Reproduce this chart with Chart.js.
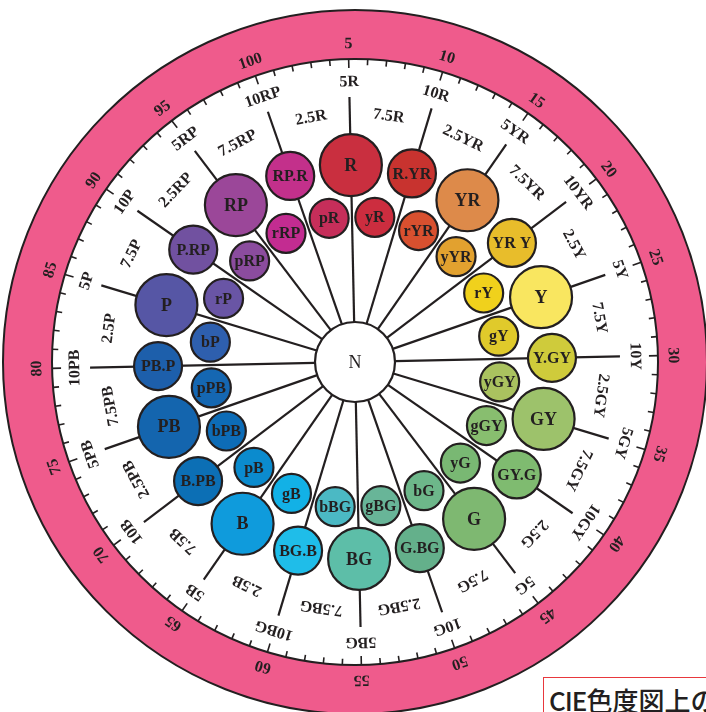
<!DOCTYPE html>
<html>
<head>
<meta charset="utf-8">
<script src="https://cdn.jsdelivr.net/npm/chart.js@4.4.1/dist/chart.umd.min.js"></script>
<style>
  html, body { margin: 0; padding: 0; background: #fff; overflow: hidden; }
  #wrap { position: relative; width: 706px; height: 712px; }
  #note {
    position: absolute; left: 543px; top: 677px; width: 220px; height: 60px;
    border: 1px solid #e8383d; background: #fff; box-sizing: border-box;
    font-family: "Noto Sans CJK JP", sans-serif; font-size: 26px; font-weight: 500;
    color: #231f20; padding: 7px 0 0 5px; line-height: 30px; white-space: nowrap;
  }
  #note span { letter-spacing: -1px; }
</style>
</head>
<body>
<div id="wrap">
  <canvas id="wheel" width="706" height="712"></canvas>
  <div id="note"><span>CIE</span>色度図上の</div>
</div>
<script>
// outer scale numbers, one every 5 of 100 steps
const ringNumbers = [5, 10, 15, 20, 25, 30, 35, 40, 45, 50, 55, 60, 65, 70, 75, 80, 85, 90, 95, 100];

// Munsell hue names, clockwise from 5R at the top
const hueLabels = [
  "5R", "7.5R", "10R", "2.5YR", "5YR", "7.5YR", "10YR", "2.5Y", "5Y", "7.5Y",
  "10Y", "2.5GY", "5GY", "7.5GY", "10GY", "2.5G", "5G", "7.5G", "10G", "2.5BG",
  "5BG", "7.5BG", "10BG", "2.5B", "5B", "7.5B", "10B", "2.5PB", "5PB", "7.5PB",
  "10PB", "2.5P", "5P", "7.5P", "10P", "2.5RP", "5RP", "7.5RP", "10RP", "2.5R"
];

// outer ring of tones (on the spokes), clockwise from R
const outerTones = [
  "R", "R.YR", "YR", "YR Y", "Y", "Y.GY", "GY", "GY.G", "G", "G.BG",
  "BG", "BG.B", "B", "B.PB", "PB", "PB.P", "P", "P.RP", "RP", "RP.R"
];
const outerColors = [
  "#c92f3f", "#c8332f", "#dd8a4a", "#e8bd2b", "#f9e660", "#cfcb3b", "#9dc26b", "#7fbb70", "#7eb871", "#64b08b",
  "#5dbea8", "#1fbde9", "#0f9bdc", "#0c6fb5", "#1465ae", "#1d5fab", "#5656a5", "#7151a0", "#9b4799", "#c3308b"
];

// inner ring of tones (between the spokes), clockwise from yR
const innerTones = [
  "yR", "rYR", "yYR", "rY", "gY", "yGY", "gGY", "yG", "bG", "gBG",
  "bBG", "gB", "pB", "bPB", "pPB", "bP", "rP", "pRP", "rRP", "pR"
];
const innerColors = [
  "#cc2d3f", "#d8502f", "#e2a12f", "#f0d11c", "#e0ca2b", "#aac25f", "#88be6f", "#79b873", "#6db78a", "#68b598",
  "#4bb9c4", "#12b1e6", "#0b8bce", "#0d6cb7", "#1567b2", "#2e5fae", "#6955a5", "#8b4c9e", "#c32c91", "#c62e5a"
];

const ROT = -1.2;            // the printed wheel is turned slightly
const INK = "#231f20";
const PINK = "#ef5b8c";

const toXY = (deg, r) => {
  const a = (deg + ROT) * Math.PI / 180;
  return { x: r * Math.sin(a), y: r * Math.cos(a) };
};

const spokeSets = outerTones.map((t, i) => ({
  type: "scatter",
  showLine: true,
  data: [toXY(i * 18, 40), toXY(i * 18, 265)],
  borderColor: INK,
  borderWidth: 2.2,
  pointRadius: 0,
  order: 3,
}));

const outerSet = {
  label: "outer",
  data: outerTones.map((t, i) => ({ ...toXY(i * 18, 197), r: i % 2 === 0 ? 31 : 24 })),
  backgroundColor: outerColors,
  borderColor: INK,
  borderWidth: 2.2,
  order: 1,
};

const innerSet = {
  label: "inner",
  data: innerTones.map((t, i) => ({ ...toXY(i * 18 + 9, 146), r: 19.5 })),
  backgroundColor: innerColors,
  borderColor: INK,
  borderWidth: 2.2,
  order: 1,
};

const centerSet = {
  label: "N",
  data: [{ x: 0, y: 0, r: 40 }],
  backgroundColor: "#fff",
  borderColor: INK,
  borderWidth: 2.2,
  order: 1,
};

const wheelPlugin = {
  id: "wheel",
  beforeDatasetsDraw(chart) {
    const { ctx, scales: { x, y } } = chart;
    const cx = x.getPixelForValue(0), cy = y.getPixelForValue(0);
    const px = (v) => x.getPixelForValue(v) - cx;

    // pink band
    ctx.save();
    ctx.beginPath();
    ctx.arc(cx, cy, px(352), 0, Math.PI * 2);
    ctx.arc(cx, cy, px(303), 0, Math.PI * 2, true);
    ctx.fillStyle = PINK;
    ctx.fill();
    ctx.lineWidth = 2;
    ctx.strokeStyle = INK;
    ctx.beginPath(); ctx.arc(cx, cy, px(352), 0, Math.PI * 2); ctx.stroke();
    ctx.beginPath(); ctx.arc(cx, cy, px(303), 0, Math.PI * 2); ctx.stroke();

    // ticks, one per step of 100
    ctx.lineWidth = 1.6;
    for (let n = 1; n <= 100; n++) {
      const len = n % 5 === 0 ? 9 : 6;
      const a = toXY((n - 5) * 3.6, 303), b = toXY((n - 5) * 3.6, 303 - len);
      ctx.beginPath();
      ctx.moveTo(x.getPixelForValue(a.x), y.getPixelForValue(a.y));
      ctx.lineTo(x.getPixelForValue(b.x), y.getPixelForValue(b.y));
      ctx.stroke();
    }

    ctx.fillStyle = INK;
    ctx.textAlign = "center";
    ctx.textBaseline = "middle";
    const putText = (txt, deg, r) => {
      const p = toXY(deg, r);
      ctx.save();
      ctx.translate(x.getPixelForValue(p.x), y.getPixelForValue(p.y));
      ctx.rotate((deg + ROT) * Math.PI / 180);
      ctx.fillText(txt, 0, 0);
      ctx.restore();
    };

    ctx.font = "bold 16px 'Liberation Serif', serif";
    ringNumbers.forEach((n) => putText(String(n), (n - 5) * 3.6, 318));
    hueLabels.forEach((h, i) => putText(h, i * 9, i % 2 === 0 ? 280 : 248));
    ctx.restore();
  },
  afterDatasetsDraw(chart) {
    const { ctx } = chart;
    ctx.save();
    ctx.fillStyle = INK;
    ctx.textAlign = "center";
    ctx.textBaseline = "middle";
    const label = (idx, names, big) => {
      chart.getDatasetMeta(idx).data.forEach((el, i) => {
        ctx.font = big && i % 2 === 0 ? "bold 18px 'Liberation Serif', serif" : "bold 16px 'Liberation Serif', serif";
        ctx.fillText(names[i], el.x, el.y + 1);
      });
    };
    label(0, outerTones, true);
    label(1, innerTones, false);
    const n = chart.getDatasetMeta(2).data[0];
    ctx.font = "18px 'Liberation Serif', serif";
    ctx.fillText("N", n.x, n.y + 1);
    ctx.restore();
  },
};

new Chart(document.getElementById("wheel"), {
  type: "bubble",
  data: { datasets: [outerSet, innerSet, centerSet, ...spokeSets] },
  options: {
    responsive: false,
    devicePixelRatio: 1,
    animation: false,
    events: [],
    layout: { padding: 0, autoPadding: false },
    clip: false,
    plugins: { legend: { display: false }, tooltip: { enabled: false } },
    scales: {
      x: { type: "linear", min: -355, max: 351, display: false },
      y: { type: "linear", min: -350, max: 362, display: false },
    },
  },
  plugins: [wheelPlugin],
});
</script>
</body>
</html>
